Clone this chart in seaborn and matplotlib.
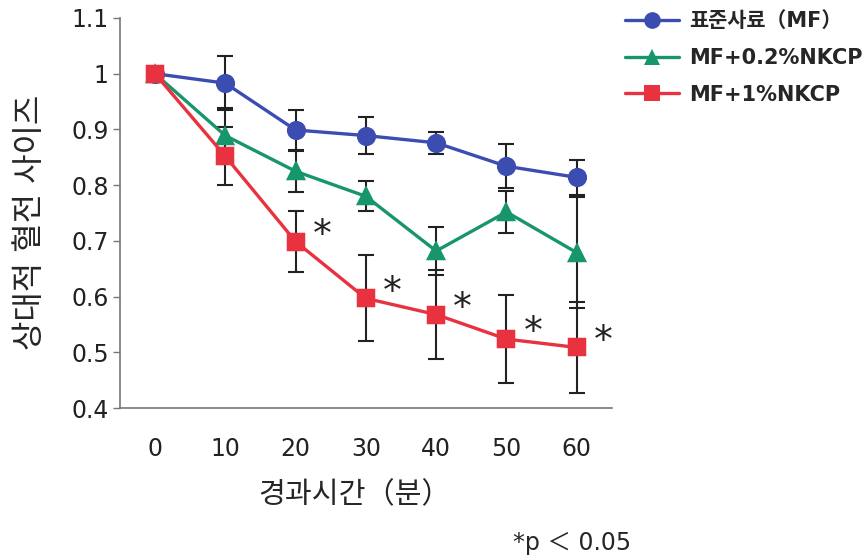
import numpy as np
import pandas as pd
import matplotlib
matplotlib.use('Agg')
import matplotlib.pyplot as plt
import seaborn as sns

# data
times = ['0', '10', '20', '30', '40', '50', '60']
series_names = ['표준사료（MF）', 'MF+0.2%NKCP', 'MF+1%NKCP']
mf = [1.0, 0.983, 0.899, 0.889, 0.876, 0.834, 0.814]
mf_err = [0, 0.048, 0.036, 0.033, 0.020, 0.039, 0.031]
nk02 = [1.0, 0.889, 0.825, 0.780, 0.682, 0.752, 0.679]
nk02_err = [0, 0.050, 0.037, 0.027, 0.043, 0.037, 0.100]
nk1 = [1.0, 0.852, 0.699, 0.597, 0.568, 0.524, 0.509]
nk1_err = [0, 0.052, 0.055, 0.077, 0.080, 0.079, 0.082]
signif = [False, False, True, True, True, True, True]
y_ticks = [0.4, 0.5, 0.6, 0.7, 0.8, 0.9, 1.0, 1.1]
y_labels = ['0.4', '0.5', '0.6', '0.7', '0.8', '0.9', '1', '1.1']

colors = ['#3b4db0', '#17966c', '#e8323f']
markers = ['o', '^', 's']

sns.set_style('white')
fonts = ['DejaVu Sans', 'Noto Sans CJK KR']
plt.rcParams['font.family'] = fonts

df = pd.DataFrame({
    'time': times * 3,
    'group': np.repeat(series_names, len(times)),
    'value': mf + nk02 + nk1,
})

fig = plt.figure(figsize=(8.68, 5.6), dpi=100)
ax = fig.add_axes([0.138, 0.271, 0.567, 0.697])

# error bars first so markers sit on top
for vals, errs in [(mf, mf_err), (nk02, nk02_err), (nk1, nk1_err)]:
    ax.errorbar(np.arange(len(times)), vals, yerr=errs, fmt='none', ecolor='#222222',
                elinewidth=1.5, capsize=5.5, capthick=1.5, zorder=1)

sns.pointplot(data=df, x='time', y='value', hue='group', hue_order=series_names,
              palette=colors, markers=markers, linestyles='-', errorbar=None,
              markersize=12, linewidth=2.4, ax=ax)

for line in ax.lines[-3:]:
    line.set_markeredgewidth(0)
    line.set_zorder(3)

# significance stars
for i, (v, s) in enumerate(zip(nk1, signif)):
    if s:
        ax.annotate('*', (i, v), xytext=(19, -3), textcoords='offset points',
                    fontsize=27, ha='center', va='baseline', color='#222222')

ax.set_xlim(-0.5, 6.5)
ax.set_ylim(0.4, 1.1)
ax.set_yticks(y_ticks)
ax.set_yticklabels(y_labels)
ax.set_xticks(range(len(times)))
ax.set_xticklabels(times)
ax.set_xticks(np.arange(-0.5, 7, 1), minor=True)
ax.tick_params(axis='x', which='major', length=0, pad=21, labelsize=17, labelcolor='#222222')
ax.tick_params(axis='x', which='minor', length=8, width=1, color='#777777', direction='out')
ax.tick_params(axis='y', length=5, width=1, color='#777777', direction='out', pad=3,
               labelsize=17, labelcolor='#222222', left=True)

for side in ['top', 'right']:
    ax.spines[side].set_visible(False)
for side in ['left', 'bottom']:
    ax.spines[side].set_color('#777777')
    ax.spines[side].set_linewidth(1.2)

ax.set_xlabel('')
ax.set_ylabel('')
fig.text(0.035, 0.603, '상대적 혈전 사이즈', rotation=90, ha='center', va='center', fontsize=23)
fig.text(0.408, 0.115, '경과시간（분）', ha='center', va='center', fontsize=21)
fig.text(0.727, 0.03, '*p ＜ 0.05', ha='right', va='center', fontsize=17)

leg = ax.legend(loc='upper left', bbox_to_anchor=(1.026, 1.017), frameon=False,
                prop={'weight': 'bold', 'size': 15}, handlelength=2.6, labelspacing=0.8,
                handletextpad=0.5, borderpad=0, borderaxespad=0)

fig.savefig('out.png', dpi=100)
